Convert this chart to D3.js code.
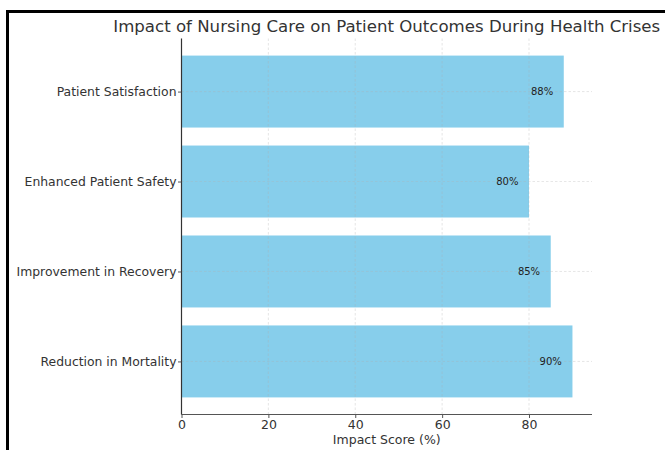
<!DOCTYPE html>
<html><head><meta charset="utf-8">
<script src="https://cdn.jsdelivr.net/npm/d3@7"></script>
<style>body{margin:0;background:#fff;} svg{display:block;font-family:"DejaVu Sans",sans-serif;}</style>
</head><body>
<svg id="c" width="665" height="450"></svg>
<script>
const categories = ["Reduction in Mortality","Improvement in Recovery","Enhanced Patient Safety","Patient Satisfaction"];
const values = [90, 85, 80, 88];
const xTicks = [0, 20, 40, 60, 80];
const title = "Impact of Nursing Care on Patient Outcomes During Health Crises";
const xLabel = "Impact Score (%)";

const svg = d3.select("#c");
const L = 181.5, R = 592, T = 38.5, B = 414.5;

// frame
svg.append("path").attr("d", `M7.5,450 L7.5,11.5 L665,11.5`).attr("fill","none").attr("stroke","#000").attr("stroke-width",3);

const x = d3.scaleLinear().domain([0, d3.max(values)*1.05]).range([L, R]);
const n = categories.length;
const y = d3.scaleLinear().domain([-0.59, n - 1 + 0.59]).range([B, T]);
const bh = y(0) - y(0.8);

svg.selectAll("rect.bar").data(values).join("rect")
  .attr("x", x(0)).attr("y", (d,i)=>y(i)-bh/2)
  .attr("width", d=>x(d)-x(0)).attr("height", bh)
  .attr("fill", "#87CEEB");

// grid
const g = svg.append("g").attr("stroke","#b0b0b0").attr("stroke-opacity",0.45).attr("stroke-dasharray","2.5,2").attr("stroke-width",0.7);
xTicks.forEach(t=>g.append("line").attr("x1",x(t)).attr("x2",x(t)).attr("y1",T).attr("y2",B));
categories.forEach((c,i)=>g.append("line").attr("x1",L).attr("x2",R).attr("y1",y(i)).attr("y2",y(i)));

// axes
const xa = svg.append("g").attr("transform",`translate(0,${B})`)
  .call(d3.axisBottom(x).tickValues(xTicks).tickSize(3.5).tickPadding(2.5).tickFormat(d3.format("d")));
xa.select(".domain").attr("stroke","#555").attr("stroke-width",1.2).attr("d",`M${L},0H${R}`);
xa.selectAll(".tick line").attr("stroke","#555");
xa.selectAll("text").attr("font-size",12.5).attr("fill","#333").attr("font-family","DejaVu Sans");

const ya = svg.append("g").attr("transform",`translate(${L},0)`)
  .call(d3.axisLeft(y).tickValues(d3.range(n)).tickSize(3.5).tickPadding(1.5).tickFormat(i=>categories[i]));
ya.select(".domain").attr("stroke","#333").attr("stroke-width",1.2).attr("d",`M0,${T}V${B}`);
ya.selectAll(".tick line").attr("stroke","#555");
ya.selectAll("text").attr("font-size",12.4).attr("fill","#333").attr("font-family","DejaVu Sans");

// value labels
svg.selectAll("text.val").data(values).join("text")
  .attr("x", d=>x(d-5)).attr("y",(d,i)=>y(i)).attr("dy","0.35em")
  .attr("text-anchor","middle").attr("font-size",10).attr("fill","#222").text(d=>d+"%");

svg.append("text").attr("x",(L+R)/2).attr("y",32).attr("text-anchor","middle")
  .attr("font-size",16.6).attr("fill","#333").text(title);
svg.append("text").attr("x",(L+R)/2).attr("y",444).attr("text-anchor","middle")
  .attr("font-size",12.5).attr("fill","#333").text(xLabel);
</script>
</body></html>
